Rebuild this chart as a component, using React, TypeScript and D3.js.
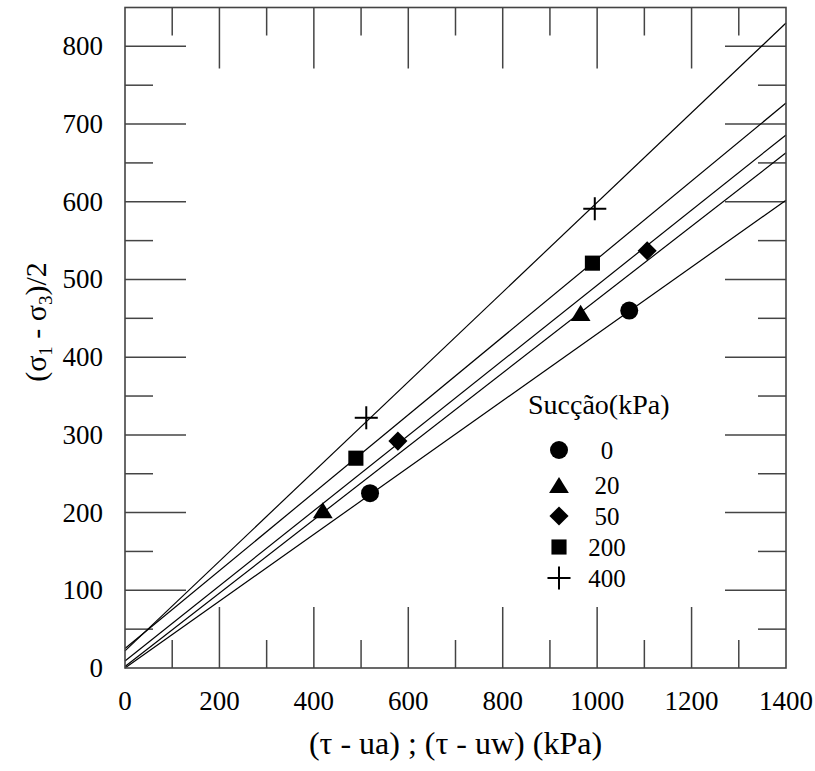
import React from "react";
import * as d3 from "d3";

// ---- data ----
const suctionLabels = ["0", "20", "50", "200", "400"];
const symbolKinds = ["circle", "triangle", "diamond", "square", "plus"];
// points: net stress (x) and (σ1-σ3)/2 (y) per suction series
const s0X = [519, 1068];
const s0Y = [225, 460];
const s20X = [419, 965];
const s20Y = [203, 457];
const s50X = [578, 1106];
const s50Y = [292, 537];
const s200X = [489, 990];
const s200Y = [270, 521];
const s400X = [511, 995];
const s400Y = [322, 591];
const seriesX = [s0X, s20X, s50X, s200X, s400X];
const seriesY = [s0Y, s20Y, s50Y, s200Y, s400Y];
// fitted envelope lines: value at x=0 and at x=1400
const lineStart = [0, 2, 9, 25, 22];
const lineEnd = [602, 663, 686, 727, 830];
const lineXs = [0, 1400];

const xMajor = [0, 200, 400, 600, 800, 1000, 1200, 1400];
const xMinor = [100, 300, 500, 700, 900, 1100, 1300];
const yMajor = [0, 100, 200, 300, 400, 500, 600, 700, 800];
const yMinor = [50, 150, 250, 350, 450, 550, 650, 750];

const W = 815;
const H = 771;
const L = 125, R = 786, T = 7.5, B = 668;
const FONT = "Liberation Serif";

function Marker({ kind, cx, cy, s }: { kind: string; cx: number; cy: number; s: number }) {
  if (kind === "circle") return <circle cx={cx} cy={cy} r={s * 0.5} fill="#000" />;
  if (kind === "triangle") {
    const w = s * 1.1, h = s * 0.9;
    return <polygon points={`${cx - w / 2},${cy + h / 2} ${cx + w / 2},${cy + h / 2} ${cx},${cy - h / 2}`} fill="#000" />;
  }
  if (kind === "diamond") {
    const r = s * 0.53;
    return <polygon points={`${cx},${cy - r} ${cx + r},${cy} ${cx},${cy + r} ${cx - r},${cy}`} fill="#000" />;
  }
  if (kind === "square") {
    const r = s * 0.42;
    return <rect x={cx - r} y={cy - r} width={2 * r} height={2 * r} fill="#000" />;
  }
  const r = s * 0.64;
  return (
    <g stroke="#000" strokeWidth={2}>
      <line x1={cx - r} x2={cx + r} y1={cy} y2={cy} />
      <line x1={cx} x2={cx} y1={cy - r} y2={cy + r} />
    </g>
  );
}

export default function App() {
  const x = d3.scaleLinear().domain([0, 1400]).range([L, R]);
  const y = d3.scaleLinear().domain([0, 850]).range([B, T]);
  const line = d3.line<[number, number]>().x((d) => x(d[0])).y((d) => y(d[1]));
  const tc = "#444";
  const majLen = 61, minLen = 28;

  return (
    <svg width={W} height={H} style={{ position: "absolute", left: 0, top: 0, background: "#fff" }}>
      <rect x={0} y={0} width={W} height={H} fill="#fff" />
      {/* ticks */}
      <g stroke={tc} strokeWidth={1.5}>
        {xMajor.slice(1, -1).map((v) => (
          <g key={"xm" + v}>
            <line x1={x(v)} x2={x(v)} y1={B} y2={B - majLen} />
            <line x1={x(v)} x2={x(v)} y1={T} y2={T + majLen} />
          </g>
        ))}
        {xMinor.map((v) => (
          <g key={"xn" + v}>
            <line x1={x(v)} x2={x(v)} y1={B} y2={B - minLen} />
            <line x1={x(v)} x2={x(v)} y1={T} y2={T + minLen} />
          </g>
        ))}
        {yMajor.slice(1).map((v) => (
          <g key={"ym" + v}>
            <line x1={L} x2={L + majLen} y1={y(v)} y2={y(v)} />
            <line x1={R} x2={R - majLen} y1={y(v)} y2={y(v)} />
          </g>
        ))}
        {yMinor.map((v) => (
          <g key={"yn" + v}>
            <line x1={L} x2={L + minLen} y1={y(v)} y2={y(v)} />
            <line x1={R} x2={R - minLen} y1={y(v)} y2={y(v)} />
          </g>
        ))}
      </g>
      {/* fitted lines */}
      <g stroke="#000" strokeWidth={1.2} fill="none">
        {lineStart.map((a, i) => (
          <path key={"l" + i} d={line([[lineXs[0], a], [lineXs[1], lineEnd[i]]]) || ""} />
        ))}
      </g>
      {/* frame */}
      <rect x={L} y={T} width={R - L} height={B - T} fill="none" stroke={tc} strokeWidth={1.6} />
      {/* points */}
      {seriesX.map((xs, i) =>
        xs.map((v, j) => (
          <Marker key={`p${i}-${j}`} kind={symbolKinds[i]} cx={x(v)} cy={y(seriesY[i][j])} s={18} />
        ))
      )}
      {/* tick labels */}
      {xMajor.map((v) => (
        <text key={"xl" + v} x={x(v)} y={710} textAnchor="middle" fontSize={27} fontFamily={FONT}>{v}</text>
      ))}
      {yMajor.map((v) => (
        <text key={"yl" + v} x={103} y={y(v) + 9} textAnchor="end" fontSize={27} fontFamily={FONT}>{v}</text>
      ))}
      {/* axis titles */}
      <text x={(L + R) / 2} y={754} textAnchor="middle" fontSize={32} fontFamily={FONT}>(τ - ua) ; (τ - uw) (kPa)</text>
      <text transform={`translate(46,322) rotate(-90)`} textAnchor="middle" fontSize={30} fontFamily={FONT}>
        (σ<tspan fontSize={19} dy={6}>1</tspan><tspan dy={-6}> - σ</tspan><tspan fontSize={19} dy={6}>3</tspan><tspan dy={-6}>)/2</tspan>
      </text>
      {/* legend */}
      <text x={528} y={414} fontSize={28} fontFamily={FONT}>Sucção(kPa)</text>
      {suctionLabels.map((lab, i) => {
        const cy = [450, 485, 516, 547, 578][i];
        return (
          <g key={"lg" + i}>
            <Marker kind={symbolKinds[i]} cx={559} cy={cy} s={18} />
            <text x={607} y={cy + 8.5} textAnchor="middle" fontSize={25} fontFamily={FONT}>{lab}</text>
          </g>
        );
      })}
    </svg>
  );
}
